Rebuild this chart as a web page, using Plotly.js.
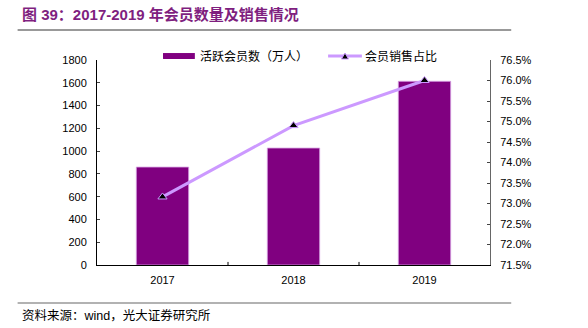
<!DOCTYPE html>
<html><head><meta charset="utf-8">
<script src="https://cdn.plot.ly/plotly-3.0.1.min.js"></script>
<style>html,body{margin:0;padding:0;background:#fff}#c{width:588px;height:328px}</style>
</head><body><div id="c"></div>
<script>
const years = ['2017', '2018', '2019'];
const members = [860, 1027, 1613];
const salesShare = [73.16, 74.9, 76.0];
const leftTicks = [0, 200, 400, 600, 800, 1000, 1200, 1400, 1600, 1800];
const rightTicks = [71.5, 72.0, 72.5, 73.0, 73.5, 74.0, 74.5, 75.0, 75.5, 76.0, 76.5];
const titleText = '图 39：2017-2019 年会员数量及销售情况';
const sourceText = '资料来源：wind，光大证券研究所';
const barName = '活跃会员数（万人）';
const lineName = '会员销售占比';

const font = 'Arial, "Liberation Sans", "Noto Sans CJK SC", sans-serif';
const barColor = '#800080';
const lineColor = '#cc99ff';
const data = [
  {type: 'bar', x: years, y: members, name: barName, width: 0.4,
   marker: {color: barColor, line: {color: '#d9a6e6', width: 0.8}}},
  {type: 'scatter', mode: 'lines+markers', x: years, y: salesShare, yaxis: 'y2', name: lineName,
   line: {color: lineColor, width: 3},
   marker: {symbol: 'triangle-up', size: 8, color: '#000', line: {color: lineColor, width: 1}}}
];
const ly = 1.0195;
const layout = {
  width: 588, height: 328,
  margin: {l: 97, r: 98, t: 60, b: 63},
  paper_bgcolor: '#fff', plot_bgcolor: '#fff',
  font: {family: font, size: 11, color: '#000'},
  showlegend: false,
  xaxis: {type: 'category', showline: true, linecolor: '#000', linewidth: 1,
          ticks: '', showgrid: false, tickfont: {size: 11}, ticklabelstandoff: 5, fixedrange: true},
  yaxis: {range: [0, 1800], tickvals: leftTicks, showline: true, linecolor: '#000', linewidth: 1,
          ticks: 'inside', ticklen: 3, showgrid: false, zeroline: false, tickfont: {size: 11},
          ticklabelstandoff: 7},
  yaxis2: {overlaying: 'y', side: 'right', range: [71.5, 76.5], tickvals: rightTicks,
           ticktext: rightTicks.map(v => v.toFixed(1) + '%'),
           showline: true, linecolor: '#666', linewidth: 1, ticks: 'inside', ticklen: 3,
           showgrid: false, zeroline: false, tickfont: {size: 11}, ticklabelstandoff: 7},
  shapes: [
    {type: 'line', xref: 'paper', yref: 'paper', x0: -0.202, x1: 1.054, y0: 1.146, y1: 1.146,
     line: {color: '#999', width: 2}},
    {type: 'line', xref: 'paper', yref: 'paper', x0: -0.202, x1: 1.054, y0: -0.185, y1: -0.185,
     line: {color: '#999', width: 1.5}},
    {type: 'line', xref: 'x', yref: 'paper', x0: 0.5, x1: 0.5, y0: 0, y1: 0.015, line: {color: '#000', width: 1}},
    {type: 'line', xref: 'x', yref: 'paper', x0: 1.5, x1: 1.5, y0: 0, y1: 0.015, line: {color: '#000', width: 1}},
    // legend swatches
    {type: 'rect', xref: 'paper', yref: 'paper', x0: 0.168, x1: 0.249, y0: 1.005, y1: 1.034,
     fillcolor: barColor, line: {width: 0}},
    {type: 'line', xref: 'paper', yref: 'paper', x0: 0.588, x1: 0.674, y0: ly, y1: ly,
     line: {color: lineColor, width: 3}},
    {type: 'path', xref: 'paper', yref: 'paper',
     path: 'M 0.6220 1.0049 L 0.6400 1.0049 L 0.6310 1.0341 Z',
     fillcolor: '#000', line: {color: lineColor, width: 1}}
  ],
  annotations: [
    {text: '<b>' + titleText + '</b>', xref: 'paper', yref: 'paper', x: -0.197, y: 1.22,
     xanchor: 'left', yanchor: 'middle', showarrow: false,
     font: {size: 15, color: '#7f1f7f', family: font}},
    {text: sourceText, xref: 'paper', yref: 'paper', x: -0.197, y: -0.244,
     xanchor: 'left', yanchor: 'middle', showarrow: false,
     font: {size: 12.5, color: '#000', family: font}},
    {text: barName, xref: 'paper', yref: 'paper', x: 0.257, y: ly,
     xanchor: 'left', yanchor: 'middle', showarrow: false,
     font: {size: 12, color: '#000', family: font}},
    {text: lineName, xref: 'paper', yref: 'paper', x: 0.677, y: ly,
     xanchor: 'left', yanchor: 'middle', showarrow: false,
     font: {size: 12, color: '#000', family: font}}
  ]
};
Plotly.newPlot('c', data, layout, {displayModeBar: false, staticPlot: true});
</script></body></html>
